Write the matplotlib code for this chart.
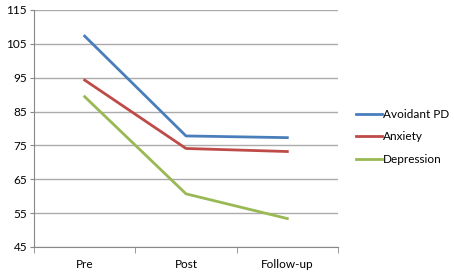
import matplotlib
matplotlib.use("Agg")
import matplotlib.pyplot as plt

# --- DATA ---
phases = ["Pre", "Post", "Follow-up"]
avoidant_pd = [107.3, 77.8, 77.3]
anxiety = [94.3, 74.1, 73.2]
depression = [89.4, 60.7, 53.4]
y_ticks = [45, 55, 65, 75, 85, 95, 105, 115]

plt.rcParams['font.family'] = ['Lato', 'DejaVu Sans']

fig = plt.figure(figsize=(4.54, 2.73), dpi=100)
ax = fig.add_axes([34/454, 1 - 247/273, (338 - 34)/454, (247 - 10)/273])

x = list(range(len(phases)))
ax.plot(x, avoidant_pd, color='#4A7EBB', lw=2, label='Avoidant PD')
ax.plot(x, anxiety, color='#BE4B48', lw=2, label='Anxiety')
ax.plot(x, depression, color='#98B954', lw=2, label='Depression')

ax.set_ylim(45, 115)
ax.set_yticks(y_ticks)
ax.set_xlim(-0.5, 2.5)
ax.set_xticks(x)
ax.set_xticklabels(phases)
ax.set_xticks([-0.5, 0.5, 1.5, 2.5], minor=True)
ax.tick_params(axis='x', which='major', length=0, pad=9, labelsize=8.5)
ax.tick_params(axis='x', which='minor', length=4, color='#888888')
ax.tick_params(axis='y', length=3, color='#888888', labelsize=8.5, pad=2)

ax.grid(axis='y', color='#ABABAB', lw=1)
ax.set_axisbelow(True)
for s in ['top', 'right']:
    ax.spines[s].set_visible(False)
for s in ['left', 'bottom']:
    ax.spines[s].set_color('#888888')

fig.legend(loc='center left', bbox_to_anchor=(351/454, 1 - 137/273), frameon=False,
           fontsize=8.5, handlelength=2.2, handletextpad=0.1, labelspacing=1.0,
           borderaxespad=0)

fig.savefig("out.png", dpi=100)
